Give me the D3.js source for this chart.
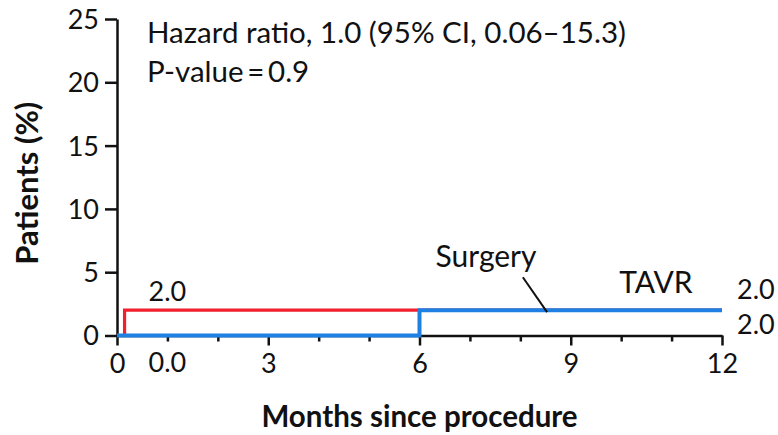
<!DOCTYPE html>
<html>
<head>
<meta charset="utf-8">
<script src="https://cdn.jsdelivr.net/npm/d3@7"></script>
<style>
  html, body { margin: 0; padding: 0; background: #fff; }
  svg { display: block; }
  text { font-family: Lato, "Open Sans", sans-serif; fill: #111; }
</style>
</head>
<body>
<svg id="chart" width="778" height="435"></svg>
<script>
// ---- data ----
const monthTicks = [0, 3, 6, 9, 12];
const minorMonthTicks = [1, 2, 4, 5, 7, 8, 10, 11];
const percentTicks = [0, 5, 10, 15, 20, 25];

const tavrMonths = [0, 0.15, 12];
const tavrPercent = [0, 2.0, 2.0];
const surgeryMonths = [0, 6, 12];
const surgeryPercent = [0, 2.0, 2.0];

const tavrAt6Label = "2.0";
const surgeryAt6Label = "0.0";
const tavrAt12Label = "2.0";
const surgeryAt12Label = "2.0";

const statLines = ["Hazard ratio, 1.0 (95% CI, 0.06\u201315.3)", "P-value\u2009=\u20090.9"];
const xTitle = "Months since procedure";
const yTitle = "Patients (%)";

// ---- layout ----
const svg = d3.select("#chart");
const x = d3.scaleLinear().domain([0, 12]).range([117, 722]);
const y = d3.scaleLinear().domain([0, 25]).range([335.5, 19]);

const RED = "#f0202c";
const BLUE = "#1f80e3";
const tickFont = 27;

// y axis
const yAxis = svg.append("g")
  .attr("transform", `translate(${x(0)},0)`)
  .call(d3.axisLeft(y).tickValues(percentTicks).tickSize(12).tickSizeOuter(0).tickPadding(6));
yAxis.select(".domain").attr("stroke", "#111").attr("stroke-width", 2.5);
yAxis.selectAll(".tick line").attr("stroke", "#111").attr("stroke-width", 2.5);
yAxis.selectAll(".tick text").attr("font-size", tickFont).attr("font-family", "Lato").attr("fill", "#111").attr("dy", "0.35em");

// x axis minor ticks
const xMinor = svg.append("g")
  .attr("transform", `translate(0,${y(0)})`)
  .call(d3.axisBottom(x).tickValues(minorMonthTicks).tickSize(6).tickSizeOuter(0).tickFormat(""));
xMinor.select(".domain").remove();
xMinor.selectAll(".tick line").attr("stroke", "#111").attr("stroke-width", 2.5);

// x axis major
const xAxis = svg.append("g")
  .attr("transform", `translate(0,${y(0)})`)
  .call(d3.axisBottom(x).tickValues(monthTicks).tickSize(10).tickSizeOuter(0).tickPadding(8).tickFormat(d3.format("d")));
xAxis.select(".domain").attr("stroke", "#111").attr("stroke-width", 2.5);
xAxis.selectAll(".tick line").attr("stroke", "#111").attr("stroke-width", 2.5);
xAxis.selectAll(".tick text").attr("font-size", tickFont).attr("font-family", "Lato").attr("fill", "#111").attr("dy", "0.71em");

// curves
const line = d3.line().curve(d3.curveStepAfter).x(d => x(d[0])).y(d => y(d[1]));
const tavrPts = tavrMonths.map((m, i) => [m, tavrPercent[i]]);
const surgeryPts = surgeryMonths.map((m, i) => [m, surgeryPercent[i]]);

svg.append("path").datum(tavrPts).attr("d", line)
  .attr("fill", "none").attr("stroke", RED).attr("stroke-width", 3.2);
svg.append("path").datum(surgeryPts).attr("d", line)
  .attr("fill", "none").attr("stroke", BLUE).attr("stroke-width", 4);

// value labels
const lbl = (txt, xx, yy, anchor) => svg.append("text")
  .attr("x", xx).attr("y", yy).attr("text-anchor", anchor || "middle")
  .attr("font-size", tickFont).text(txt);

lbl(tavrAt6Label, x(1.0), y(tavrPercent[1]) - 9);
lbl(surgeryAt6Label, x(1.0), y(0) + 36);
lbl(tavrAt12Label, x(12) + 15, y(tavrPercent[2]) - 11, "start");
lbl(surgeryAt12Label, x(12) + 15, y(0) - 2, "start");

// series labels
svg.append("text").attr("x", x(7.32)).attr("y", y(5.4)).attr("text-anchor", "middle")
  .attr("font-size", 30).text("Surgery");
svg.append("line")
  .attr("x1", x(8.05)).attr("y1", y(4.6)).attr("x2", x(8.53)).attr("y2", y(1.85))
  .attr("stroke", "#111").attr("stroke-width", 2);
svg.append("text").attr("x", x(10.69)).attr("y", y(3.35)).attr("text-anchor", "middle")
  .attr("font-size", 30).text("TAVR");

// stats text
statLines.forEach((t, i) => {
  svg.append("text").attr("x", 147).attr("y", 43 + i * 39)
    .attr("font-size", 29.5).text(t);
});

// titles
svg.append("text").attr("x", x(6)).attr("y", 427).attr("text-anchor", "middle")
  .attr("font-size", 29.5).attr("font-weight", "bold").text(xTitle);
svg.append("text").attr("transform", `translate(38,${(y(0) + y(25)) / 2 + 6}) rotate(-90)`)
  .attr("text-anchor", "middle").attr("font-size", 31).attr("font-weight", "bold").text(yTitle);
</script>
</body>
</html>
